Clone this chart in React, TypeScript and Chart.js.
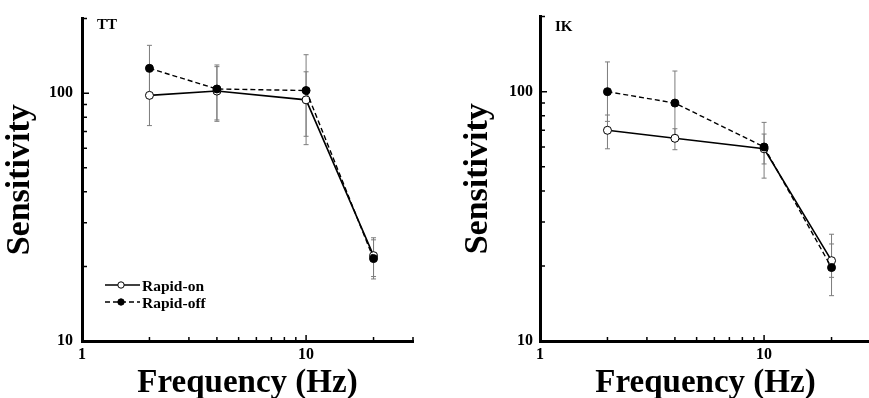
import React, { useEffect, useRef } from "react";
import { Chart, registerables } from "chart.js";

Chart.register(...registerables);

// ---- data ----
const frequencies = [2, 4, 10, 20];

const ttRapidOn = [98, 102, 94, 22.1];
const ttRapidOnLow = [74, 78, 62, 18.2];
const ttRapidOnHigh = [122, 128, 122, 26.1];
const ttRapidOff = [126, 104, 102.5, 21.5];
const ttRapidOffLow = [96, 77, 67, 17.8];
const ttRapidOffHigh = [156, 130, 143, 25.6];

const ikRapidOn = [70, 65, 59, 21];
const ikRapidOnLow = [59, 58.5, 51.3, 18];
const ikRapidOnHigh = [80.6, 71, 67.6, 24.5];
const ikRapidOff = [100, 90, 60, 19.7];
const ikRapidOffLow = [76, 67, 45, 15.2];
const ikRapidOffHigh = [131.6, 121, 75.3, 26.8];

const xMajorTicks = [1, 10];
const xMinorTicks = [2, 3, 4, 5, 6, 7, 8, 9, 20, 30];
const yMajorTicks = [10, 100];
const yMinorTicks = [20, 30, 40, 50, 60, 70, 80, 90, 200];

const seriesNames = ["Rapid-on", "Rapid-off"];
const xTitle = "Frequency (Hz)";
const yTitle = "Sensitivity";

const SERIF = "'Liberation Serif', 'Times New Roman', serif";

type PanelProps = {
  label: string;
  on: number[];
  onLow: number[];
  onHigh: number[];
  off: number[];
  offLow: number[];
  offHigh: number[];
  showLegend: boolean;
  yPad: number;
  labelY: number;
  left: number;
};

function Panel(props: PanelProps) {
  const ref = useRef<HTMLCanvasElement | null>(null);

  useEffect(() => {
    if (!ref.current) return;
    const errors = [
      { low: props.onLow, high: props.onHigh },
      { low: props.offLow, high: props.offHigh },
    ];

    const errorBarPlugin = {
      id: "errorBars",
      beforeDatasetsDraw(chart: any) {
        const ctx = chart.ctx;
        const xs = chart.scales.x;
        const ys = chart.scales.y;
        ctx.save();
        ctx.strokeStyle = "#7c7c7c";
        ctx.lineWidth = 1;
        errors.forEach((e) => {
          frequencies.forEach((f, i) => {
            const px = xs.getPixelForValue(f);
            const y1 = ys.getPixelForValue(e.low[i]);
            const y2 = ys.getPixelForValue(e.high[i]);
            ctx.beginPath();
            ctx.moveTo(px, y1);
            ctx.lineTo(px, y2);
            ctx.moveTo(px - 2.5, y1);
            ctx.lineTo(px + 2.5, y1);
            ctx.moveTo(px - 2.5, y2);
            ctx.lineTo(px + 2.5, y2);
            ctx.stroke();
          });
        });
        ctx.restore();
      },
    };

    const decorPlugin = {
      id: "decor",
      afterDraw(chart: any) {
        const ctx = chart.ctx;
        const xs = chart.scales.x;
        const ys = chart.scales.y;
        const area = chart.chartArea;
        ctx.save();
        ctx.strokeStyle = "#000";
        ctx.lineWidth = 1.5;
        ctx.beginPath();
        xMajorTicks.forEach((v) => {
          const px = xs.getPixelForValue(v);
          ctx.moveTo(px, area.bottom);
          ctx.lineTo(px, area.bottom - 6);
        });
        xMinorTicks.forEach((v) => {
          const px = xs.getPixelForValue(v);
          ctx.moveTo(px, area.bottom);
          ctx.lineTo(px, area.bottom - 4);
        });
        yMajorTicks.forEach((v) => {
          const py = ys.getPixelForValue(v);
          ctx.moveTo(area.left, py);
          ctx.lineTo(area.left + 7, py);
        });
        yMinorTicks.forEach((v) => {
          const py = ys.getPixelForValue(v);
          ctx.moveTo(area.left, py);
          ctx.lineTo(area.left + 5, py);
        });
        ctx.stroke();

        // panel label
        ctx.fillStyle = "#000";
        ctx.font = `bold 15px ${SERIF}`;
        ctx.textBaseline = "alphabetic";
        ctx.textAlign = "left";
        ctx.fillText(props.label, area.left + 15, props.labelY);

        if (props.showLegend) {
          const ds = chart.data.datasets;
          const order = [1, 0]; // Rapid-on, Rapid-off
          order.forEach((di, row) => {
            const d = ds[di];
            const y = 285 + row * 17;
            const x0 = area.left + 23;
            const x1 = area.left + 58;
            ctx.save();
            ctx.strokeStyle = "#000";
            ctx.lineWidth = 1.3;
            ctx.setLineDash(d.borderDash || []);
            ctx.beginPath();
            ctx.moveTo(x0, y);
            ctx.lineTo(x1, y);
            ctx.stroke();
            ctx.setLineDash([]);
            ctx.beginPath();
            ctx.arc(area.left + 39, y, 3.2, 0, Math.PI * 2);
            ctx.fillStyle = d.pointBackgroundColor;
            ctx.fill();
            ctx.lineWidth = 1;
            ctx.stroke();
            ctx.restore();
            ctx.fillStyle = "#000";
            ctx.font = `bold 15.5px ${SERIF}`;
            ctx.textBaseline = "alphabetic";
            ctx.fillText(d.label, x1 + 2, y + 6);
          });
        }
        ctx.restore();
      },
    };

    const chart = new Chart(ref.current, {
      type: "line",
      data: {
        datasets: [
          {
            label: seriesNames[1],
            data: frequencies.map((f, i) => ({ x: f, y: props.off[i] })),
            borderColor: "#000",
            borderWidth: 1.4,
            borderDash: [5, 3],
            pointRadius: 4,
            pointBorderWidth: 1,
            pointBorderColor: "#000",
            pointBackgroundColor: "#000",
            order: 1,
          },
          {
            label: seriesNames[0],
            data: frequencies.map((f, i) => ({ x: f, y: props.on[i] })),
            borderColor: "#000",
            borderWidth: 1.6,
            pointRadius: 4,
            pointBorderWidth: 1,
            pointBorderColor: "#000",
            pointBackgroundColor: "#fff",
            order: 2,
          },
        ],
      },
      options: {
        responsive: false,
        animation: false,
        layout: { padding: { top: 16, right: 17, left: 0, bottom: 0 } },
        plugins: { legend: { display: false }, tooltip: { enabled: false } },
        scales: {
          x: {
            type: "logarithmic",
            min: 1,
            max: 30,
            grid: { display: false, drawTicks: false },
            border: { display: true, color: "#000", width: 3 },
            afterBuildTicks: (scale: any) => {
              scale.ticks = xMajorTicks.map((v) => ({ value: v, major: true }));
            },
            afterFit: (scale: any) => {
              scale.height = 57;
            },
            ticks: {
              autoSkip: false,
              maxRotation: 0,
              padding: 4,
              color: "#000",
              font: { family: SERIF, size: 16, weight: "bold" },
              callback: (v: any) => String(v),
            },
            title: {
              display: true,
              text: xTitle,
              color: "#000",
              padding: { top: 0, bottom: -5 },
              font: { family: SERIF, size: 33, weight: "bold" },
            },
          },
          y: {
            type: "logarithmic",
            min: 10,
            max: 200,
            grid: { display: false, drawTicks: false },
            border: { display: true, color: "#000", width: 3 },
            afterBuildTicks: (scale: any) => {
              scale.ticks = yMajorTicks.map((v) => ({ value: v, major: true }));
            },
            afterFit: (scale: any) => {
              scale.width = 82;
            },
            ticks: {
              autoSkip: false,
              padding: props.yPad,
              color: "#000",
              font: { family: SERIF, size: 16, weight: "bold" },
              callback: (v: any) => String(v),
            },
            title: {
              display: true,
              text: yTitle,
              color: "#000",
              padding: { top: 0, bottom: 0 },
              font: { family: SERIF, size: 34, weight: "bold" },
            },
          },
        },
      },
      plugins: [errorBarPlugin, decorPlugin],
    } as any);

    return () => chart.destroy();
  }, []);

  return (
    <canvas
      ref={ref}
      width={430}
      height={398}
      style={{ position: "absolute", left: props.left, top: 0, width: 430, height: 398 }}
    />
  );
}

export default function App() {
  return (
    <div
      style={{
        position: "fixed",
        left: 0,
        top: 0,
        width: 869,
        height: 398,
        overflow: "hidden",
        background: "#fff",
      }}
    >
      <Panel
        label="TT"
        on={ttRapidOn}
        onLow={ttRapidOnLow}
        onHigh={ttRapidOnHigh}
        off={ttRapidOff}
        offLow={ttRapidOffLow}
        offHigh={ttRapidOffHigh}
        showLegend={true}
        yPad={9}
        labelY={29}
        left={0}
      />
      <Panel
        label="IK"
        on={ikRapidOn}
        onLow={ikRapidOnLow}
        onHigh={ikRapidOnHigh}
        off={ikRapidOff}
        offLow={ikRapidOffLow}
        offHigh={ikRapidOffHigh}
        showLegend={false}
        yPad={7}
        labelY={31}
        left={458}
      />
    </div>
  );
}
